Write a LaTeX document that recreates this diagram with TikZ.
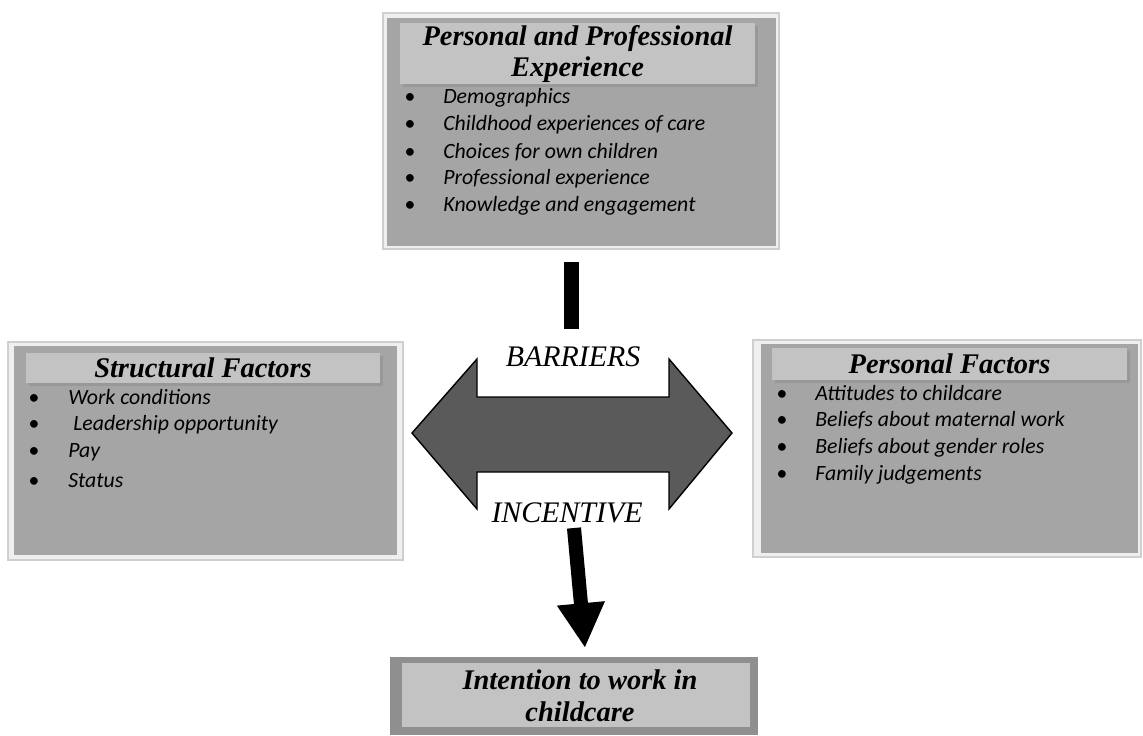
\documentclass[tikz,border=0pt]{standalone}
\usepackage{fontspec}
\setmainfont{Liberation Serif}
\newfontfamily\calibrifont{Carlito}
\usetikzlibrary{arrows.meta,shadows}

\begin{document}
\begin{tikzpicture}[x=0.02cm, y=-0.02cm,
    frame/.style={fill=frameColour, draw=frameLine, line width=0.6pt},
    panel/.style={fill=panelColour},
    band/.style={fill=bandColour, drop shadow={shadow xshift=1.5pt, shadow yshift=-1.5pt, opacity=0.35}},
    title/.style={font=\fontsize{16.2}{18}\selectfont\bfseries\itshape, align=center, inner sep=0pt},
    item/.style={font=\fontsize{12.4}{14}\selectfont\calibrifont\itshape, anchor=west, inner sep=0pt},
    flow/.style={font=\fontsize{17}{19}\selectfont\itshape, inner sep=0pt},
    bar/.style={line width=8pt, black}]

    \definecolor{frameColour}{HTML}{EFEFEF}
    \definecolor{frameLine}{HTML}{CFCFCF}
    \definecolor{panelColour}{HTML}{A5A5A5}
    \definecolor{bandColour}{HTML}{C3C3C3}
    \definecolor{arrowFill}{HTML}{5A5A5A}
    \definecolor{outcomeFrame}{HTML}{8F8F8F}

    \useasboundingbox (0,0) rectangle (1143,735);

    % Personal and professional experience (top)
    \filldraw[frame] (383,13) rectangle (779,249);
    \fill[panel] (387,18) rectangle (776,246);
    \fill[band] (400,23) rectangle (755,84);
    \node[title] (expTitle) at (577.5,54) {Personal and Professional\\Experience};
    \foreach \txt [count=\i] in {Demographics, Childhood experiences of care,
        Choices for own children, Professional experience, Knowledge and engagement}
        \node[item] (expItem\i) at (404,{98+27*(\i-1)}) {\makebox[0.78cm][l]{\textbullet}\txt};

    % Structural factors (left)
    \filldraw[frame] (8,342) rectangle (403,560);
    \fill[panel] (14,346) rectangle (397,555);
    \fill[band] (26,353) rectangle (380,383);
    \node[title] (strTitle) at (203,368) {Structural Factors};
    \foreach \txt [count=\i] in {Work conditions, {\hspace{0.1cm}Leadership opportunity}, Pay, Status}
        \node[item] (strItem\i) at (28,{397+27.7*(\i-1)}) {\makebox[0.8cm][l]{\textbullet}\txt};

    % Personal factors (right)
    \filldraw[frame] (753,340) rectangle (1141,557);
    \fill[panel] (761,344) rectangle (1138,553);
    \fill[band] (772,348) rectangle (1127,380);
    \node[title] (perTitle) at (949.5,364) {Personal Factors};
    \foreach \txt [count=\i] in {Attitudes to childcare, Beliefs about maternal work,
        Beliefs about gender roles, Family judgements}
        \node[item] (perItem\i) at (776,{393+27.3*(\i-1)}) {\makebox[0.78cm][l]{\textbullet}\txt};

    % Double arrow between the factors
    \filldraw[fill=arrowFill, draw=black, line width=0.8pt]
        (412,433) -- (477,359) -- (477,397) -- (669,397) -- (669,359) -- (732,433)
        -- (669,509) -- (669,472) -- (477,472) -- (477,509) -- cycle;
    \node[flow] (barriers) at (573,357) {BARRIERS};
    \node[flow] (incentive) at (567,513) {INCENTIVE};

    % Intention to work in childcare (bottom)
    \fill[outcomeFrame] (390,657) rectangle (758,735);
    \fill[bandColour] (402,663) rectangle (750,727);
    \node[title] (intent) at (580,696) {Intention to work in\\childcare};

    % Connectors
    \coordinate (expBarTop) at (571.5,262);
    \coordinate (expBarEnd) at (571.5,329);
    \coordinate (incBarTop) at (574,528);
    \coordinate (incBarTip) at (585,648);
    \draw[bar] (expBarTop) -- (expBarEnd);
    \draw[bar, -{Triangle[length=25.5pt,width=25.5pt]}] (incBarTop) -- (incBarTip);

\end{tikzpicture}
\end{document}
